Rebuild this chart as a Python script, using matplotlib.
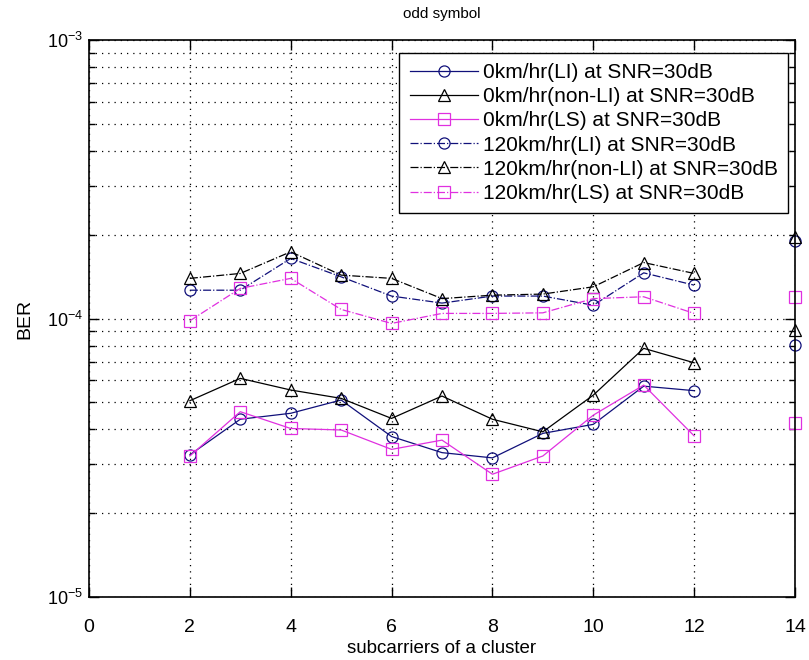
import matplotlib
matplotlib.use("Agg")
import matplotlib.pyplot as plt
import numpy as np
from matplotlib.ticker import LogLocator, NullFormatter

plt.rcParams['font.family'] = ['Liberation Sans', 'DejaVu Sans']
plt.rcParams['mathtext.fontset'] = 'custom'
plt.rcParams['mathtext.rm'] = 'Liberation Sans'
plt.rcParams['mathtext.it'] = 'Liberation Sans'

# subcarrier index (no result for 13)
subcarriers = [2, 3, 4, 5, 6, 7, 8, 9, 10, 11, 12, 13, 14]
nan = np.nan

# BER, 0 km/hr
ber_0_li = [3.24e-5, 4.35e-5, 4.57e-5, 5.10e-5, 3.77e-5, 3.30e-5, 3.16e-5, 3.87e-5, 4.17e-5, 5.72e-5, 5.51e-5, nan, 8.03e-5]
ber_0_nonli = [5.07e-5, 6.10e-5, 5.54e-5, 5.17e-5, 4.38e-5, 5.27e-5, 4.35e-5, 3.92e-5, 5.31e-5, 7.82e-5, 6.94e-5, nan, 9.09e-5]
ber_0_ls = [3.21e-5, 4.63e-5, 4.03e-5, 3.98e-5, 3.39e-5, 3.66e-5, 2.76e-5, 3.21e-5, 4.50e-5, 5.77e-5, 3.79e-5, nan, 4.23e-5]

# BER, 120 km/hr
ber_120_li = [1.265e-4, 1.265e-4, 1.645e-4, 1.413e-4, 1.205e-4, 1.137e-4, 1.205e-4, 1.205e-4, 1.117e-4, 1.460e-4, 1.319e-4, nan, 1.90e-4]
ber_120_nonli = [1.395e-4, 1.453e-4, 1.738e-4, 1.433e-4, 1.395e-4, 1.180e-4, 1.214e-4, 1.225e-4, 1.301e-4, 1.590e-4, 1.453e-4, nan, 1.96e-4]
ber_120_ls = [9.82e-5, 1.284e-4, 1.395e-4, 1.079e-4, 9.61e-5, 1.044e-4, 1.044e-4, 1.049e-4, 1.180e-4, 1.198e-4, 1.044e-4, nan, 1.198e-4]

navy = '#10107a'
magenta = '#e030e0'

fig = plt.figure(figsize=(8.09, 6.60), dpi=100)
ax = fig.add_axes([0.110, 0.0955, 0.8727, 0.8435])

ms = 8
lw = 0.9
series = [
    (ber_0_li, navy, 'o', '-', '0km/hr(LI) at SNR=30dB'),
    (ber_0_nonli, 'black', '^', '-', '0km/hr(non-LI) at SNR=30dB'),
    (ber_0_ls, magenta, 's', '-', '0km/hr(LS) at SNR=30dB'),
    (ber_120_li, navy, 'o', '-.', '120km/hr(LI) at SNR=30dB'),
    (ber_120_nonli, 'black', '^', '-.', '120km/hr(non-LI) at SNR=30dB'),
    (ber_120_ls, magenta, 's', '-.', '120km/hr(LS) at SNR=30dB'),
]
for vals, col, mk, ls, lab in series:
    ax.plot(subcarriers, vals, color=col, marker=mk, linestyle=ls, linewidth=lw,
            markersize=ms, markerfacecolor='none', markeredgewidth=0.9,
            label=lab, clip_on=False)

ax.set_yscale('log')
ax.set_xlim(0, 14)
ax.set_ylim(1e-5, 1e-3)
ax.set_xticks(range(0, 15, 2))
ax.yaxis.set_major_locator(LogLocator(base=10, numticks=5))
ax.yaxis.set_minor_locator(LogLocator(base=10, subs=np.arange(2, 10), numticks=20))
ax.yaxis.set_minor_formatter(NullFormatter())

ax.grid(True, which='major', axis='both', linestyle=(0, (1, 4)), color='black', linewidth=0.9)
ax.grid(True, which='minor', axis='y', linestyle=(0, (1, 4)), color='black', linewidth=0.9)

ax.tick_params(which='both', direction='in', top=True, right=True, width=1)
ax.tick_params(which='major', length=7)
ax.tick_params(which='minor', length=4)
ax.tick_params(axis='x', pad=16, labelsize=14)
ax.tick_params(axis='y', pad=4, labelsize=13)
for sp in ax.spines.values():
    sp.set_linewidth(1.2)

ax.set_title('odd symbol', fontsize=11, pad=16)
ax.set_xlabel('subcarriers of a cluster', fontsize=13.5, labelpad=3)
ax.set_ylabel('BER', fontsize=14, labelpad=10)

leg = ax.legend(loc='upper right', bbox_to_anchor=(0.990, 0.978), fontsize=15,
                frameon=True, fancybox=False, edgecolor='black', framealpha=1,
                handlelength=3.3, labelspacing=0.25, borderpad=0.5, handletextpad=0.2,
                borderaxespad=0)
leg.get_frame().set_linewidth(1.0)

fig.savefig('out.png', dpi=100)
